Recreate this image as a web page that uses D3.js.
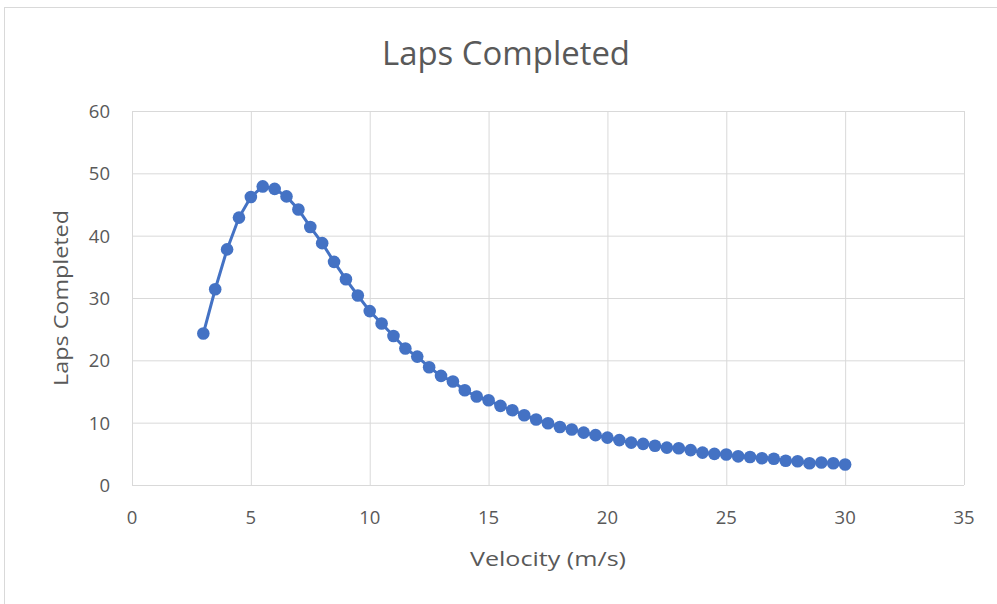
<!DOCTYPE html>
<html>
<head>
<meta charset="utf-8">
<script src="https://cdn.jsdelivr.net/npm/d3@7"></script>
<style>
  body { margin: 0; background: #fff; }
  text { font-family: "Open Sans", sans-serif; }
</style>
</head>
<body>
<div id="viz"></div>
<script>
const velocity = [3, 3.5, 4, 4.5, 5, 5.5, 6, 6.5, 7, 7.5, 8, 8.5, 9, 9.5, 10, 10.5, 11, 11.5, 12, 12.5,
    13, 13.5, 14, 14.5, 15, 15.5, 16, 16.5, 17, 17.5, 18, 18.5, 19, 19.5, 20, 20.5, 21, 21.5, 22, 22.5,
    23, 23.5, 24, 24.5, 25, 25.5, 26, 26.5, 27, 27.5, 28, 28.5, 29, 29.5, 30];
const laps = [24.3, 31.4, 37.8, 42.9, 46.2, 47.9, 47.5, 46.3, 44.2, 41.4, 38.8, 35.8, 33.0, 30.4, 27.9, 25.9, 23.9, 21.9, 20.6, 18.9,
    17.5, 16.6, 15.2, 14.2, 13.6, 12.7, 12.0, 11.2, 10.5, 9.9, 9.3, 8.9, 8.4, 8.0, 7.6, 7.2, 6.8, 6.6, 6.3, 6.0,
    5.9, 5.6, 5.2, 5.0, 4.9, 4.6, 4.5, 4.3, 4.2, 3.9, 3.8, 3.5, 3.6, 3.5, 3.3];
const xTicks = [0, 5, 10, 15, 20, 25, 30, 35];
const yTicks = [0, 10, 20, 30, 40, 50, 60];

const width = 997;
const height = 604;
const margin = {left: 132, right: 33, top: 111, bottom: 119};

const svg = d3.select("#viz").append("svg")
    .attr("width", width)
    .attr("height", height);

// chart border (right and bottom edges fall outside the picture)
svg.append("rect")
    .attr("x", 4.5).attr("y", 7.5)
    .attr("width", width + 10).attr("height", height + 10)
    .attr("fill", "#fff").attr("stroke", "#d9d9d9");

const x = d3.scaleLinear().domain([0, 35]).range([margin.left, width - margin.right]);
const y = d3.scaleLinear().domain([0, 60]).range([height - margin.bottom, margin.top]);

// gridlines
svg.append("g")
    .attr("transform", `translate(0,${height - margin.bottom})`)
    .call(d3.axisBottom(x).tickValues(xTicks).tickSize(-(height - margin.bottom - margin.top)).tickFormat(""))
    .call(g => g.select(".domain").remove())
    .selectAll("line").attr("stroke", "#d9d9d9");

svg.append("g")
    .attr("transform", `translate(${margin.left},0)`)
    .call(d3.axisLeft(y).tickValues(yTicks).tickSize(-(width - margin.left - margin.right)).tickFormat(""))
    .call(g => g.select(".domain").remove())
    .selectAll("line").attr("stroke", "#d9d9d9");

// tick labels
svg.selectAll(".xlab")
    .data(xTicks)
    .enter().append("text")
    .attr("x", d => x(d))
    .attr("y", 524)
    .attr("text-anchor", "middle")
    .style("font-size", "18.5px")
    .style("fill", "#595959")
    .text(d => d);

svg.selectAll(".ylab")
    .data(yTicks)
    .enter().append("text")
    .attr("x", 110)
    .attr("y", d => y(d) + 7)
    .attr("text-anchor", "end")
    .style("font-size", "18.5px")
    .style("fill", "#595959")
    .text(d => d);

// series
const points = velocity.map((v, i) => ({v: v, l: laps[i]}));

svg.append("path")
    .datum(points)
    .attr("fill", "none")
    .attr("stroke", "#4472c4")
    .attr("stroke-width", 3)
    .attr("d", d3.line().x(d => x(d.v)).y(d => y(d.l)));

svg.selectAll(".pt")
    .data(points)
    .enter().append("circle")
    .attr("cx", d => x(d.v))
    .attr("cy", d => y(d.l))
    .attr("r", 6.3)
    .attr("fill", "#4472c4");

// titles
svg.append("text")
    .attr("x", 506).attr("y", 65)
    .attr("text-anchor", "middle")
    .attr("textLength", 248).attr("lengthAdjust", "spacingAndGlyphs")
    .style("font-size", "32px")
    .style("fill", "#595959")
    .text("Laps Completed");

svg.append("text")
    .attr("x", 548).attr("y", 566)
    .attr("text-anchor", "middle")
    .attr("textLength", 156).attr("lengthAdjust", "spacingAndGlyphs")
    .style("font-size", "20px")
    .style("fill", "#595959")
    .text("Velocity (m/s)");

svg.append("text")
    .attr("transform", "translate(68,298) rotate(-90)")
    .attr("text-anchor", "middle")
    .attr("textLength", 176).attr("lengthAdjust", "spacingAndGlyphs")
    .style("font-size", "20px")
    .style("fill", "#595959")
    .text("Laps Completed");
</script>
</body>
</html>
